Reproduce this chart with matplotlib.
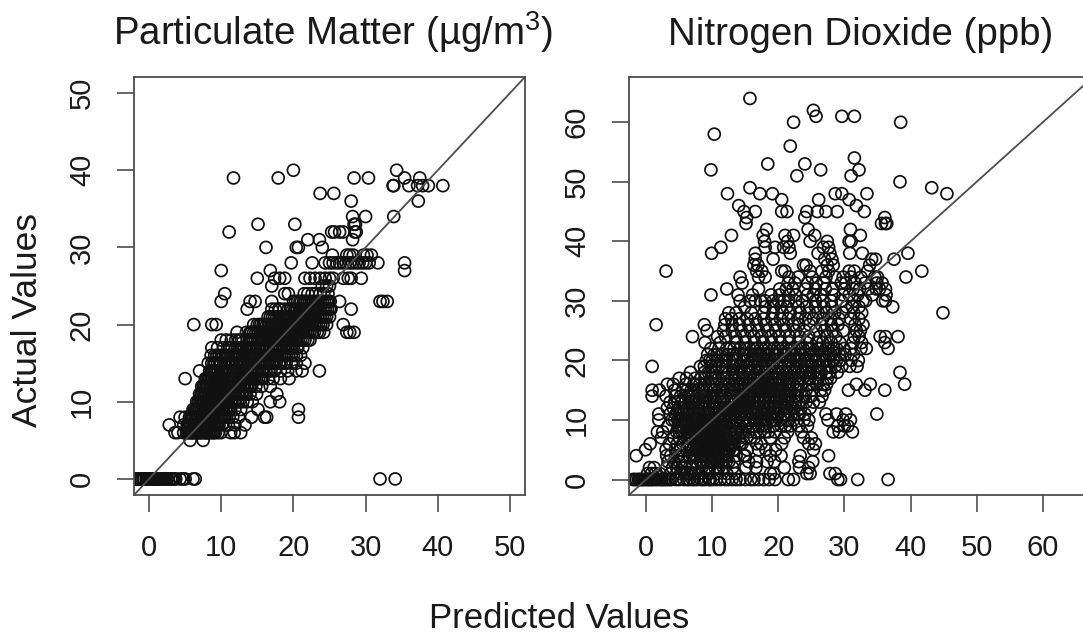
import matplotlib
matplotlib.use('Agg')
import matplotlib.pyplot as plt

plt.rcParams['font.family'] = ['Liberation Sans', 'DejaVu Sans']
plt.rcParams['mathtext.default'] = 'regular'

# PARTICULATE MATTER : predicted values listed for each actual value
pm_levels = [0, 5, 6, 7, 8, 9, 10, 11, 12, 13, 14, 15, 16, 17, 18, 19, 20, 21, 22, 23, 24, 25, 26, 27, 28, 29, 30, 31, 32, 33, 34, 36, 37, 38, 39, 40]
pm_pred = [
    [-1.9, -1.6, -1.3, -1, -0.7, -0.4, -0.1, 0.2, 0.5, 0.8, 1.1, 1.4, 1.7, 2, 2.3, 2.6, 3, 3.3, 3.7, 4.3, 4.7, 5, 6.1, 6.4, 32, 34.1],
    [5.7, 7.5],
    [3.6, 4, 4.8, 5.2, 5.5, 5.9, 6.2, 6.6, 7, 7.3, 7.7, 8, 8.4, 8.8, 9.2, 9.6, 10, 11.3, 11.8, 12.7],
    [2.8, 4.8, 5.3, 5.6, 5.9, 6.3, 6.7, 7, 7.4, 7.8, 8.2, 8.5, 8.9, 9.3, 9.7, 10.1, 10.6, 11, 11.9, 13.3],
    [4.3, 5, 5.6, 5.9, 6.2, 6.5, 6.9, 7.2, 7.6, 8, 8.3, 8.7, 9.1, 9.5, 9.9, 10.3, 10.7, 11.1, 11.6, 12.4, 14.2, 16, 16.3, 20.7],
    [6.1, 6.4, 6.7, 7, 7.3, 7.7, 8.1, 8.4, 8.8, 9.2, 9.6, 10, 10.3, 10.8, 11.3, 11.9, 12.7, 15.1, 20.7],
    [6.6, 6.9, 7.2, 7.5, 7.9, 8.3, 8.6, 9, 9.4, 9.8, 10.2, 10.6, 11, 11.5, 12, 12.5, 13, 13.6, 14.3, 16.8, 18.1],
    [7, 7.3, 7.6, 8, 8.4, 8.8, 9.1, 9.5, 9.9, 10.3, 10.7, 11.1, 11.5, 12, 12.5, 13, 13.5, 14, 14.9, 17.7],
    [7.3, 7.7, 8.1, 8.5, 8.9, 9.3, 9.7, 10.1, 10.5, 10.9, 11.3, 11.7, 12.2, 12.7, 13.2, 13.7, 14.2, 14.8, 15.6, 16.8],
    [5, 7.8, 8.2, 8.6, 9, 9.4, 9.8, 10.3, 10.7, 11.1, 11.6, 12.1, 12.6, 13.1, 13.6, 14.1, 14.6, 15.2, 15.8, 16.5, 17.2, 18.2, 19.4],
    [7, 8.4, 8.8, 9.2, 9.6, 10.1, 10.6, 11.1, 11.6, 12.1, 12.6, 13.1, 13.6, 14.1, 14.7, 15.3, 15.9, 16.6, 17.4, 18.2, 19.2, 20.4, 21.2, 23.6],
    [8.2, 8.7, 9.2, 9.8, 10.4, 11, 11.5, 12, 12.5, 13, 13.6, 14.1, 14.7, 15.2, 15.8, 16.4, 17, 17.6, 18.3, 19, 19.7, 20.4, 21.6],
    [8.6, 9.1, 9.7, 10.3, 10.9, 11.3, 11.9, 12.4, 13, 13.6, 14.2, 14.8, 15.4, 16, 16.6, 17.2, 17.8, 18.4, 19, 19.7, 20.4, 21],
    [8.7, 9.5, 10.3, 10.9, 11.5, 12, 12.6, 13.2, 13.8, 14.4, 15, 15.6, 16.2, 16.8, 17.4, 18, 18.6, 19.2, 19.8, 20.5, 21.3],
    [10, 10.7, 11.4, 12, 12.8, 13.6, 14.1, 14.7, 15.3, 15.9, 16.5, 17.1, 17.7, 18.3, 18.9, 19.5, 20.1, 20.7, 21.3, 22],
    [12.2, 13.5, 14.2, 14.8, 15.4, 16, 16.6, 17.2, 17.8, 18.4, 19, 19.6, 20.2, 20.8, 21.4, 22, 22.6, 23.3, 24.2, 27.4, 27.8, 28.4],
    [6.2, 8.7, 9.3, 14.5, 15, 15.5, 16, 16.6, 17.2, 17.8, 18.4, 19, 19.6, 20.2, 20.8, 21.4, 22, 22.6, 23.2, 23.8, 24.6, 26.9],
    [16.5, 17.1, 17.7, 18.3, 18.9, 19.5, 20.1, 20.7, 21.3, 21.9, 22.5, 23.1, 23.7, 24.3, 25],
    [13.6, 17, 17.5, 18.1, 18.7, 19.3, 19.9, 20.5, 21.1, 21.7, 22.3, 22.9, 23.5, 24.1, 24.7, 25.2, 28],
    [10, 14, 14.7, 17, 20, 20.6, 21.1, 21.6, 22.2, 22.8, 23.4, 24, 24.6, 25.1, 26.4, 32, 32.4, 33],
    [10.5, 18.8, 19.3, 21.5, 22, 22.6, 23.1, 23.7, 24.2, 24.8],
    [17, 24, 24.6, 25],
    [15, 17.4, 18.1, 18.8, 21.6, 22.3, 23, 23.7, 24.4, 25, 25.5, 26.9, 27.6, 28, 29.4],
    [10, 16.8, 35.4],
    [19.7, 22.6, 24.4, 25, 25.5, 26, 26.4, 26.9, 27.3, 27.8, 28.2, 28.7, 29.1, 29.6, 30, 30.5, 31.7, 35.4],
    [25.4, 27.4, 27.8, 28.3, 29.7, 30.2, 30.8],
    [16.2, 20.4, 20.7, 24],
    [22, 23.6, 28.2],
    [11.1, 25.3, 25.7, 26.4, 26.9, 28.5, 28.7],
    [15.1, 20.2, 28.4, 28.6],
    [28.2, 30, 33.9],
    [28, 37.3],
    [23.7, 25.6],
    [33.8, 33.9, 36, 37.2, 37.9, 38.7, 40.7],
    [11.7, 17.9, 28.4, 30.4, 35.4, 37.5],
    [20, 34.3],
]
# second pass over the dark part of the band
pm_levels_dense = [0, 6, 7, 8, 9, 10, 11, 12, 13, 14, 15, 16, 17, 18, 19, 20, 21, 22, 23]
pm_pred_dense = [
    [-1.8, -1.2, -0.8, -0.3, 0.1, 0.6, 0.9, 1.2, 1.6, 2.1, 2.5, 3.1, 3.5],
    [5.3, 5.7, 6, 6.4, 6.8, 7.1, 7.5, 7.9, 8.2, 8.6, 9],
    [5.5, 5.8, 6.1, 6.5, 6.9, 7.2, 7.6, 8, 8.3, 8.7, 9.1, 9.5],
    [5.8, 6.1, 6.4, 6.7, 7.1, 7.4, 7.8, 8.1, 8.5, 8.9, 9.3, 9.7, 10.1, 10.5],
    [6.3, 6.6, 6.9, 7.2, 7.5, 7.9, 8.3, 8.6, 9, 9.4, 9.8, 10.2, 10.6, 11.1],
    [6.8, 7.1, 7.4, 7.7, 8.1, 8.5, 8.8, 9.2, 9.6, 10, 10.4, 10.8, 11.3, 11.8, 12.3],
    [7.2, 7.5, 7.8, 8.2, 8.6, 9, 9.3, 9.7, 10.1, 10.5, 10.9, 11.3, 11.8, 12.3, 12.8, 13.3],
    [7.5, 7.9, 8.3, 8.7, 9.1, 9.5, 9.9, 10.3, 10.7, 11.1, 11.5, 12, 12.5, 13, 13.5, 14],
    [8, 8.4, 8.8, 9.2, 9.6, 10.1, 10.5, 10.9, 11.4, 11.9, 12.4, 12.9, 13.4, 13.9, 14.4, 14.9, 15.5],
    [8.6, 9, 9.4, 9.9, 10.4, 10.8, 11.3, 11.8, 12.3, 12.9, 13.4, 13.9, 14.4, 15, 15.6, 16.2, 16.9],
    [9, 9.5, 10, 10.6, 11.2, 11.7, 12.2, 12.7, 13.3, 13.8, 14.4, 15, 15.5, 16.1, 16.7, 17.3, 18, 18.7],
    [9.4, 10, 10.6, 11.6, 12.1, 12.7, 13.3, 13.9, 14.5, 15.1, 15.7, 16.3, 16.9, 17.5, 18.1, 18.7, 19.3, 20],
    [11.2, 12.3, 12.9, 13.5, 14.1, 14.6, 15.2, 15.8, 16.4, 17, 17.6, 18.2, 18.8, 19.4, 20, 20.6],
    [12.5, 13.9, 14.4, 15, 15.6, 16.2, 16.8, 17.4, 18, 18.6, 19.2, 19.8, 20.4, 21, 21.6, 22.3],
    [14, 14.5, 15.1, 15.7, 16.3, 16.9, 17.5, 18.1, 18.7, 19.3, 19.9, 20.5, 21.1, 21.7, 22.3, 22.9, 23.6],
    [15.3, 15.8, 16.3, 16.9, 17.5, 18.1, 18.7, 19.3, 19.9, 20.5, 21.1, 21.7, 22.3, 22.9, 23.5, 24.1],
    [16.8, 17.4, 18, 18.6, 19.2, 19.8, 20.4, 21, 21.6, 22.2, 22.8, 23.4, 24, 24.6],
    [18, 19.6, 20.2, 20.8, 21.4, 22, 22.6, 23.2, 23.8, 24.4, 25],
    [20.3, 20.9, 21.4, 21.9, 22.5, 23.1, 23.7, 24.3, 24.9],
]

# NITROGEN DIOXIDE : predicted values listed for each actual value
no2_levels = list(range(0, 33)) + [33, 34, 35, 36, 37, 38, 39, 40, 41, 42, 43, 44, 45, 46, 47, 48, 49, 50, 51, 52, 53, 54, 56, 58, 60, 61, 62, 64]
no2_pred = [
    [-2, -1.5, -1, -0.6, -0.1, 0.4, 0.9, 1.5, 2.2, 2.7, 3.3, 3.8, 4.5, 5, 5.7, 6.2, 7, 7.7, 8.3, 8.9, 9.5, 10.1, 10.6, 11.2, 11.9, 12.4, 13, 13.6, 14.2, 15, 15.8, 16.3, 17, 17.8, 18.6, 19.5, 21.5, 22.3, 29, 29.4, 32, 36.6],
    [0.2, 0.8, 2.1, 5.2, 5.8, 6.6, 7.3, 8, 13.4, 18.8, 19.3, 24.3, 24.8, 27.8, 28.6],
    [0.5, 1.2, 4, 4.6, 5.4, 6.9, 7.7, 9.6, 11, 15.1, 16.6, 20.9, 23.2, 24.6],
    [3.3, 4.2, 5, 6.1, 7.5, 8.2, 9.3, 10.2, 11.4, 12.1, 15.5, 16.7, 18.3, 19.4, 23.1, 25.2],
    [-1.5, 3.1, 3.7, 4.9, 5.6, 6.5, 7.4, 8.3, 9.2, 9.9, 10.7, 11.4, 12.3, 15, 18.8, 20.4, 23.3, 27.6],
    [-0.1, 3, 4.4, 5.2, 6.1, 7, 7.8, 8.6, 9.5, 10.2, 11, 11.8, 12.6, 13.5, 15.3, 17, 18.1, 19.6, 25.3],
    [0.6, 3.5, 4.7, 5.5, 6.3, 7.2, 8, 8.8, 9.5, 10.3, 11.1, 11.9, 12.7, 13.3, 14.2, 16.7, 17.4, 20.5, 24.6, 25.6],
    [2.3, 4.2, 5, 5.8, 6.7, 7.5, 8.2, 9, 9.7, 10.5, 11.3, 12.1, 13, 13.6, 15.2, 16.4, 18.8, 20.9, 23.8, 25],
    [1.7, 2.5, 4.6, 5.4, 6.2, 7.1, 7.9, 8.7, 9.5, 10.3, 11.1, 11.8, 12.5, 13.4, 14.3, 16.6, 18, 19.5, 23.5, 28.3, 29.2, 31.2],
    [3.3, 4.8, 5.6, 6.3, 7.2, 8, 8.9, 9.8, 10.6, 11.4, 12.2, 13, 13.8, 14.9, 16.1, 17.5, 19.3, 21.1, 23.1, 24.4, 29, 30, 30.5],
    [1.9, 3.9, 4.3, 5.1, 5.9, 6.8, 7.6, 8.5, 9.4, 10.3, 11.2, 12, 12.9, 13.7, 14.6, 15.4, 16.3, 17.2, 18.1, 19, 21.5, 23.9, 27.5, 29.8, 30.9],
    [1.9, 3.6, 4.5, 5.5, 6.4, 7.3, 8.2, 9.1, 10, 10.9, 11.8, 12.7, 13.5, 14.4, 15.3, 16.2, 17, 17.9, 18.8, 19.7, 21.1, 22.9, 24, 27.2, 28.8, 30.2, 34.9],
    [3.2, 4.1, 5, 6.2, 7.1, 8, 8.9, 10.2, 11.1, 12.2, 13.1, 14.1, 15, 15.8, 16.7, 17.6, 18.4, 19.2, 20, 21.2, 22.3, 23.4, 24.8],
    [3.6, 4.8, 5.9, 6.8, 7.9, 9, 10.1, 11.3, 12.4, 13.4, 14.4, 15.3, 16.2, 17, 17.8, 18.6, 19.4, 20.2, 21, 22, 23.1, 24.2, 25.3, 26.2],
    [0.9, 3, 4.4, 5.2, 6.3, 7.1, 8.6, 9.7, 10.8, 12, 13.2, 14.3, 15.2, 16.1, 16.9, 17.7, 18.5, 19.3, 20.1, 20.9, 21.8, 22.9, 24, 25, 26.6],
    [0.9, 2, 4.3, 5.5, 6.8, 7.9, 9.1, 10.3, 11.5, 12.8, 13.9, 14.9, 15.8, 16.6, 17.4, 18.2, 19, 19.9, 20.8, 21.8, 23, 24.2, 25.1, 26.4, 27, 30.6, 33.1, 36.1],
    [4.1, 3.2, 6, 7.2, 8.1, 9.5, 10.7, 12, 13.2, 14.2, 15.4, 16.3, 17.2, 18, 19.1, 20.1, 21.2, 22.2, 23.4, 24.6, 25.9, 26.8, 27.3, 31.8, 33.9, 39.1],
    [5, 6.1, 7.4, 8.3, 9.8, 10.9, 12.2, 13.3, 14.6, 15.7, 16.8, 17.9, 19, 20, 21.3, 22.5, 23.7, 24.8, 26, 27.4],
    [6.7, 8.8, 10, 11.4, 12.5, 13.8, 14.9, 16, 17.2, 18.3, 19.4, 20.6, 21.8, 23, 24.2, 25.3, 26.5, 27.8, 28.9, 38.4],
    [0.9, 8.2, 9.8, 11, 12, 13.2, 14.4, 15.6, 16.9, 18, 19.1, 20.3, 21.5, 22.7, 24.1, 25, 26.3, 27.7, 28.6, 29.6, 30.8, 31.9],
    [9.1, 10, 11.4, 12.6, 13.7, 15.2, 16.3, 17.5, 18.8, 20.1, 21.4, 22.6, 23.9, 25.1, 26.1, 27.2, 28.3, 29.4, 31, 32.1],
    [9.3, 10.3, 11.6, 13.1, 14.6, 15.7, 16.9, 18.1, 19.4, 20.7, 21.9, 23.2, 24.6, 25.7, 26.9, 28, 29.2, 30.1, 31.4],
    [9.8, 11, 12.2, 13.3, 14.9, 16.2, 17.4, 18.6, 19.9, 21.2, 22.4, 23.7, 25, 26.3, 27.5, 28.8, 29.9, 31, 32.5, 33.3, 36.6],
    [8.9, 11.2, 13.7, 15, 16.4, 17.7, 19, 20.3, 21.6, 23, 24.3, 25.8, 26.7, 28, 29.3, 31.3, 32.6, 36.1],
    [7, 10.8, 12, 13.5, 14.9, 16.3, 17.5, 18.9, 20.2, 21.7, 23.2, 24.6, 26.2, 27.4, 28.7, 31.5, 32.2, 35.4, 36.2, 38.1],
    [9.2, 11.7, 13, 14.4, 15.8, 17, 18.4, 19.6, 21.1, 22.6, 24, 25.7, 27, 28.3, 29.8, 31.8, 32.4],
    [1.5, 8.8, 11.9, 13, 14.1, 15.5, 16.7, 18.1, 19.5, 20.8, 22.2, 23.1, 24.7, 26.5, 28, 29, 31.6, 32.8],
    [12, 12.9, 14.1, 15.3, 16.5, 17.8, 19, 20.3, 21.5, 22.9, 24.1, 25.3, 26.7, 27.9, 29.2, 30.9, 32.2],
    [12.5, 13.6, 15.9, 17.8, 19.2, 20.6, 21.8, 23.3, 24.7, 26, 27.3, 28.5, 29.8, 31.4, 32.6, 44.9],
    [14.9, 18, 19.3, 20.4, 21.3, 23, 24.3, 25.6, 26.9, 28.1, 30.3, 31.2, 32.2, 37.3],
    [14.2, 15.7, 16.5, 17.3, 18, 19.2, 20, 20.8, 21.5, 22.6, 23.6, 25.6, 26.7, 28, 29.5, 31.4, 32.8, 33.2, 35.8, 36.2],
    [9.8, 13.9, 16.1, 18.9, 20.2, 21.6, 22.6, 24.4, 25.3, 26.4, 28.4, 29.8, 30.7, 32, 34.2, 36.3],
    [12.2, 17, 20.2, 21.2, 22.2, 24.1, 25.6, 27.1, 28.2, 30, 31.3, 32.3, 33.6, 34.8, 35.3, 36.2],
    [14.5, 21.5, 22.5, 24.4, 25.7, 26.9, 29.5, 30.2, 31.6, 33.1, 34.9, 35.7],
    [14.2, 17, 18, 21.6, 23, 25.1, 27.2, 28.6, 29.8, 31, 32.5, 34.6, 35, 39.3],
    [3, 16.7, 17.5, 20.5, 21, 24.8, 26.6, 27.6, 30.7, 31.5, 33.5, 41.7],
    [16.3, 16.9, 23.8, 24.2, 27.4, 28.3, 33.8],
    [16.5, 19.2, 27, 28.1, 34.1, 37.5, 34.7],
    [9.9, 16.5, 21.8, 26, 27.8, 30.8, 32.7, 39.6],
    [11.3, 18, 19.5, 20.8, 21.6, 27.6, 26.8],
    [21.4, 24.8, 27.4, 30.7, 31, 17.9],
    [12.9, 17.7, 22.3, 25.5, 32.4, 21],
    [18.2, 24.5, 30.9],
    [15.1, 35.6, 36.4, 36.2],
    [15.2, 24, 36.1],
    [14.8, 16.5, 20.5, 21.3, 24.3, 25.9, 27.2, 28.9, 33],
    [14, 31.8],
    [20.5, 26.1, 30.7],
    [12.3, 17.2, 19.1, 28.6, 29.6, 33.4, 45.5],
    [15.7, 43.2],
    [38.4],
    [22.8, 31],
    [9.8, 26.4, 32.2],
    [18.4, 24],
    [31.5],
    [21.8],
    [10.3],
    [22.3, 38.5],
    [25.7, 29.6, 31.5],
    [25.3],
    [15.7],
]
# second pass over the dark core of the cloud
no2_levels_dense = [0, 1, 2, 3, 4, 5, 6, 7, 8, 9, 10, 11, 12, 13, 14, 15, 16, 17, 18, 19, 20, 21, 22]
no2_pred_dense = [
    [-1.8, -1.2, -0.8, -0.4, 0.2, 0.7, 1.2, 1.8, 2.4, 3, 3.6, 6.5, 7.3, 8.6, 9.7],
    [1.4, 3.7, 6.2, 9.5, 10.8, 12.2],
    [3.1, 5.9, 8.4, 9.1, 10.4, 11.7, 13.1],
    [5.5, 8.7, 9.8, 10.7, 11, 11.6, 12.5, 13.3],
    [7, 8.8, 9.5, 10.1, 10.4, 11, 11.7, 12.2, 13.6, 14.8],
    [7.5, 8.2, 8.9, 9.3, 9.9, 10.5, 10.9, 11.4, 12, 12.4, 13.2],
    [6.6, 7.7, 8.4, 9.1, 9.8, 10.1, 10.6, 11, 11.5, 11.9, 12.4, 13, 14.5],
    [6.2, 7, 7.8, 8.6, 9.3, 10, 10.4, 10.8, 11.2, 11.7, 12.3, 13.3, 14.1, 15.8],
    [5, 6.5, 7.4, 8.2, 9.1, 9.9, 10.7, 11.4, 12, 12.8, 13.7, 14.6, 15.5, 17.2, 18.5, 21.4],
    [5.3, 6, 6.8, 7.6, 8.4, 9.2, 10, 11, 12, 13.2, 14.2, 15.2, 16.2, 17, 18.1, 19.2, 20.4, 21.8],
    [4.8, 5.4, 6.3, 7.2, 8, 9, 9.9, 10.8, 11.7, 12.6, 13.6, 14.6, 15.7, 16.7, 17.6, 18.4, 19.3, 20.3, 21.2, 22.3, 24.6],
    [5, 6, 6.9, 7.8, 8.7, 9.5, 10.5, 11.4, 12.3, 13.2, 14.1, 15, 15.9, 16.6, 17.4, 18.2, 19.1, 20, 20.9, 22, 23.2],
    [5.5, 6.6, 7.6, 8.4, 9.5, 10.6, 11.6, 12.6, 13.6, 14.5, 15.4, 16.2, 16.9, 17.7, 18.5, 19.3, 20.1, 21, 22],
    [4.3, 5.4, 7.3, 8.5, 9.5, 10.6, 11.8, 13, 14, 14.8, 15.6, 16.4, 17.2, 18, 18.8, 19.6, 20.5, 21.4, 22.6],
    [6.6, 7.7, 9, 10.2, 11.4, 12.7, 13.8, 14.7, 15.6, 16.4, 17.2, 18, 18.8, 19.6, 20.5, 21.4, 22.6, 23.6],
    [6.2, 7.3, 8.5, 9.8, 11, 12.2, 13.4, 14.5, 15.4, 16.2, 17, 17.8, 18.6, 19.5, 20.4, 21.4, 22.6],
    [7.6, 8.8, 10.1, 11.4, 12.6, 13.8, 14.8, 15.8, 16.8, 17.7, 18.7, 19.6, 20.6, 21.7, 23, 25.2],
    [8.9, 10.4, 11.7, 12.9, 14, 15.1, 16.2, 17.4, 18.5, 19.6, 20.7, 21.9, 23.1, 24.4, 25.6, 27.9],
    [9.4, 10.6, 12, 13.2, 14.4, 15.6, 16.7, 17.9, 19, 20.1, 21.2, 22.4, 23.6, 24.9, 26.2, 27.3],
    [8.8, 10.5, 11.6, 13, 14.1, 15.2, 16.4, 17.5, 18.6, 19.8, 21, 22.2, 23.4, 24.6, 26, 27.2],
    [9.6, 10.7, 12.1, 13.4, 14.7, 15.9, 17, 18.2, 19.3, 20.6, 21.9, 23.3, 24.5, 25.7, 26.8, 28.8],
    [10.7, 12.3, 13.7, 15, 16.2, 17.4, 18.6, 19.9, 21.2, 22.6, 24, 25.3, 26.6, 27.7],
    [12.7, 14.2, 15.6, 16.8, 18.1, 19.4, 20.7, 22, 23.3, 24.7, 26, 27.2, 28.4],
]

pm_ticks = [0, 10, 20, 30, 40, 50]
no2_ticks = [0, 10, 20, 30, 40, 50, 60]
W, H = 1083, 633
ink = '#1a1a1a'


def draw_panel(box, limits, level_sets, pred_sets, ticks):
    left, top, right, bottom = box
    ax = fig.add_axes([left / W, 1 - bottom / H, (right - left) / W, (bottom - top) / H])
    xs, ys = [], []
    for levels, preds in zip(level_sets, pred_sets):
        for lv, row in zip(levels, preds):
            xs += row
            ys += [lv] * len(row)
    ax.scatter(xs, ys, s=74, facecolors='none', edgecolors='#111111', linewidths=1.25)
    ax.axline((0, 0), slope=1, color='#4d4d4d', lw=1.3)
    ax.set_xlim(limits)
    ax.set_ylim(limits)
    ax.set_xticks(ticks)
    ax.set_yticks(ticks)
    ax.tick_params(length=12.4, width=1.2, color='#4d4d4d', labelsize=21, labelcolor=ink)
    ax.tick_params(axis='x', pad=16)
    ax.tick_params(axis='y', pad=15)
    for lab in ax.get_yticklabels():
        lab.set_rotation(90)
        lab.set_va('center')
    for sp in ax.spines.values():
        sp.set_color('#4d4d4d')
        sp.set_linewidth(1.3)
    return ax


fig = plt.figure(figsize=(W / 100, H / 100), dpi=100)
draw_panel((134, 77, 525, 495), (-2.08, 52.08), [pm_levels, pm_levels_dense], [pm_pred, pm_pred_dense], pm_ticks)
draw_panel((629, 77, 1093, 495), (-2.6, 67.6), [no2_levels, no2_levels_dense], [no2_pred, no2_pred_dense], no2_ticks)

fig.text(333 / W, 1 - 45 / H, 'Particulate Matter (µg/m$^3$)', ha='center', va='baseline', fontsize=27.7, color=ink)
fig.text(861 / W, 1 - 45 / H, 'Nitrogen Dioxide (ppb)', ha='center', va='baseline', fontsize=27.7, color=ink)
fig.text(28 / W, 1 - 320 / H, 'Actual Values', rotation=90, ha='center', va='center', fontsize=25.5, color=ink)
fig.text(559 / W, 1 - 628 / H, 'Predicted Values', ha='center', va='baseline', fontsize=25, color=ink)

fig.savefig('out.png', dpi=100)
